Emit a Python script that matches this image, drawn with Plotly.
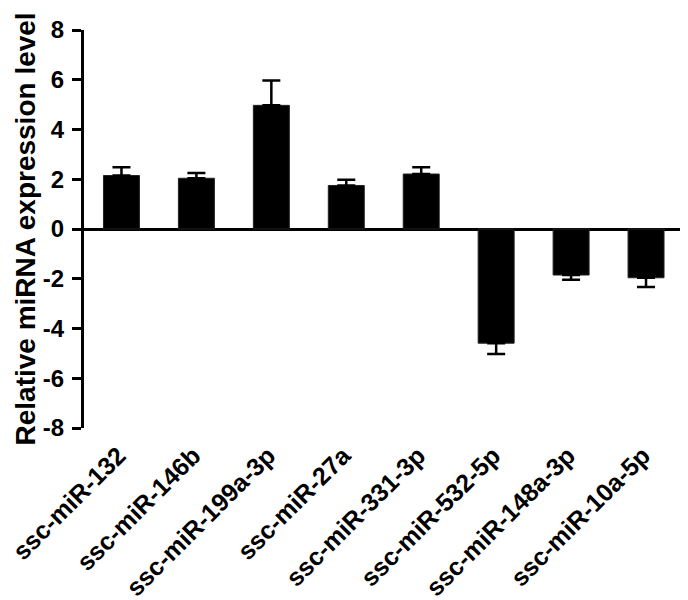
import plotly.graph_objects as go

categories = ["ssc-miR-132", "ssc-miR-146b", "ssc-miR-199a-3p", "ssc-miR-27a",
              "ssc-miR-331-3p", "ssc-miR-532-5p", "ssc-miR-148a-3p", "ssc-miR-10a-5p"]
values = [2.15, 2.04, 4.97, 1.75, 2.21, -4.59, -1.85, -1.96]
errors = [0.33, 0.21, 1.0, 0.23, 0.27, 0.44, 0.19, 0.37]
y_ticks = [-8, -6, -4, -2, 0, 2, 4, 6, 8]
y_title = "Relative miRNA expression level"

err_plus = [e if v >= 0 else 0 for v, e in zip(values, errors)]
err_minus = [e if v < 0 else 0 for v, e in zip(values, errors)]

FONT = "Liberation Sans, Arial, sans-serif"

fig = go.Figure(go.Bar(
    x=categories, y=values, width=0.48,
    marker=dict(color="black", line=dict(color="#222", width=1)),
    error_y=dict(type="data", symmetric=False, array=err_plus, arrayminus=err_minus,
                 color="black", thickness=2.5, width=9),
))

# the page body adds an 8px margin, so the figure is sized to fit the window
fig.update_layout(
    width=680, height=592,
    margin=dict(l=76, r=3, t=22, b=172, autoexpand=False),
    plot_bgcolor="white", paper_bgcolor="white",
    showlegend=False,
    font=dict(family=FONT, color="black"),
    bargap=0.5,
)
fig.update_yaxes(
    automargin=False,
    range=[-8, 8], tickvals=y_ticks, ticktext=[str(t) for t in y_ticks],
    showgrid=False, showline=True, linecolor="black", linewidth=3,
    ticks="outside", ticklen=9, tickwidth=3, tickcolor="black",
    tickfont=dict(size=24, family=FONT, weight="bold"),
    ticklabelstandoff=3,
    zeroline=True, zerolinecolor="black", zerolinewidth=3,
)
fig.update_xaxes(
    automargin=False,
    range=[-0.5, 7.52], showgrid=False, showline=False, ticks="",
    tickangle=-45, tickfont=dict(size=25, family=FONT, weight="bold"),
    ticklabelstandoff=7, ticklabelshift=-3,
)
fig.add_annotation(
    text=y_title, textangle=-90, showarrow=False,
    xref="paper", yref="paper", x=-0.099, y=0.5,
    xanchor="center", yanchor="middle",
    font=dict(size=28, family=FONT, weight="bold", color="black"),
)

fig.write_html("out.html")
